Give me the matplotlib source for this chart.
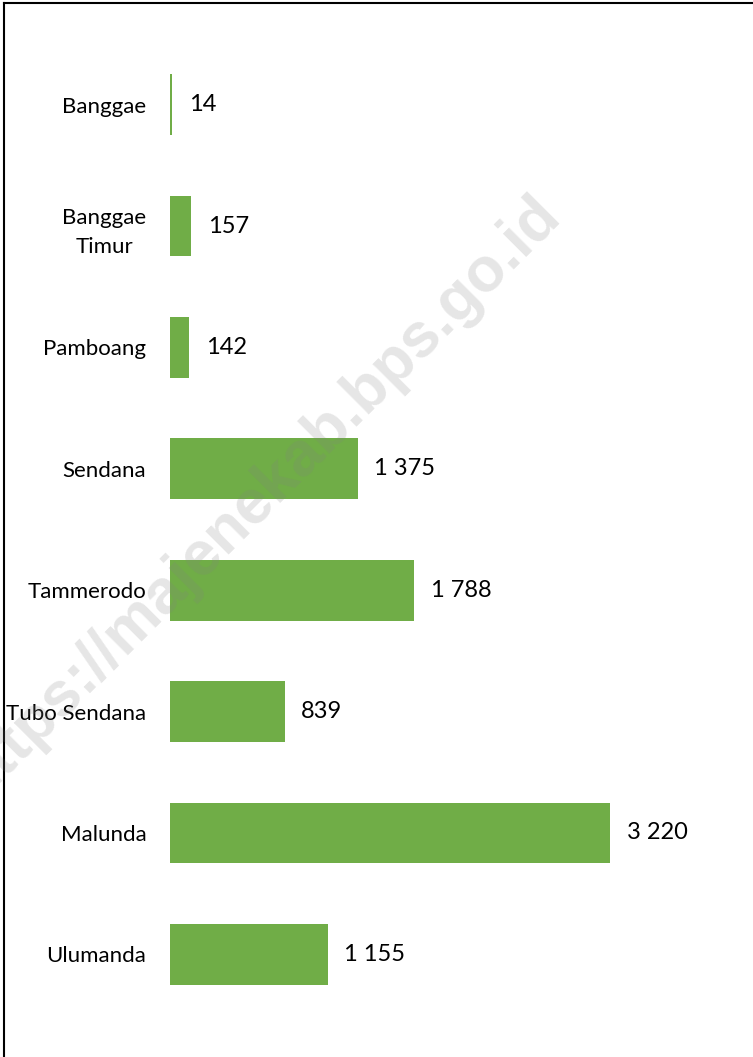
import matplotlib
matplotlib.use("Agg")
from matplotlib import pyplot as plt

# data
kecamatan = ["Banggae", "Banggae\nTimur", "Pamboang", "Sendana", "Tammerodo",
             "Tubo Sendana", "Malunda", "Ulumanda"]
nilai = [14, 157, 142, 1375, 1788, 839, 3220, 1155]

W, H = 753, 1057
fig = plt.figure(figsize=(W / 100, H / 100), dpi=100)

# axes placed in pixel terms
left, right, top, bottom = 170, 740, 44, 1015
ax = fig.add_axes([left / W, 1 - bottom / H, (right - left) / W, (bottom - top) / H])

ypos = list(range(len(kecamatan)))
ax.barh(ypos, nilai, height=0.5, color="#70AD47", zorder=2)
ax.set_ylim(len(kecamatan) - 0.5, -0.5)
ax.set_xlim(0, (right - left) / 0.1366)

ax.set_yticks(ypos)
ax.set_yticklabels(kecamatan, fontsize=16, fontfamily="Lato", ha="right",
                   multialignment="center", linespacing=1.55)
ax.tick_params(axis="y", length=0, pad=17)
ax.set_xticks([])
for s in ax.spines.values():
    s.set_visible(False)

# value labels, space as thousands separator
for y, v in zip(ypos, nilai):
    lbl = f"{v:,}".replace(",", " ")
    ax.annotate(lbl, (v, y), xytext=(12, 0), textcoords="offset points",
                va="center", ha="left", fontsize=17, fontfamily="Lato")

# frame line on top / left
fig.add_artist(plt.Line2D([4 / W, 4 / W], [0, 1 - 3 / H], color="black", lw=1.5))
fig.add_artist(plt.Line2D([4 / W, 1], [1 - 3 / H, 1 - 3 / H], color="black", lw=1.5))

# watermark
fig.text(258 / W, 1 - 498 / H, "https://majenekab.bps.go.id", fontsize=45,
         fontweight="bold", fontfamily="Liberation Sans", color="gray", alpha=0.2,
         rotation=45, ha="center", va="center", rotation_mode="anchor", zorder=10)

fig.savefig("out.png", dpi=100)
